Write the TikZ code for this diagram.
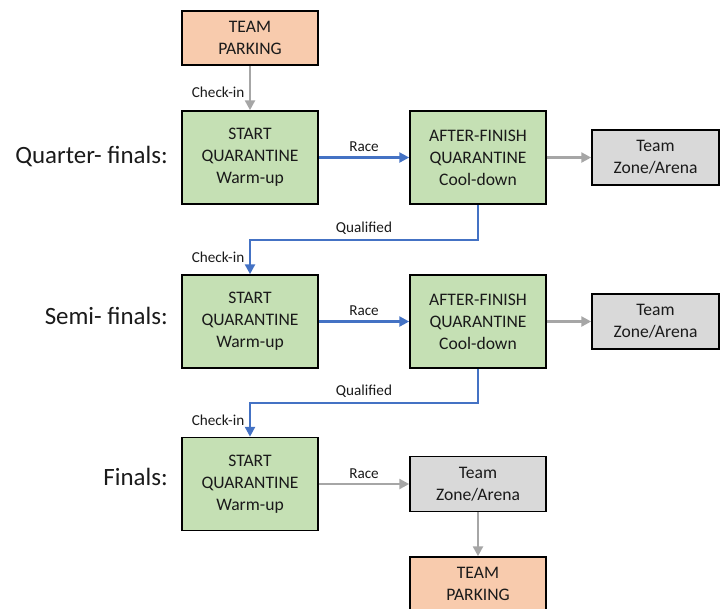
\documentclass[tikz,border=0pt]{standalone}
\usepackage{fontspec}
\setmainfont{Carlito}
\usetikzlibrary{arrows.meta,positioning,calc}

\begin{document}
\begin{tikzpicture}[x=0.025cm, y=-0.025cm,
    box/.style={draw=black, line width=1.1pt, align=center, inner sep=0pt, text=textDark,
        font=\fontsize{12.5}{15.6}\selectfont},
    stage/.style={box, fill=stageGreen, minimum width=3.4cm, minimum height=2.325cm},
    park/.style={box, fill=parkOrange, minimum width=3.4cm, minimum height=1.35cm},
    zone/.style={box, fill=zoneGray, minimum height=1.375cm},
    blueflow/.style={draw=flowBlue, line width=2.1pt, -{Triangle[length=7pt,width=7pt]}},
    grayflow/.style={draw=flowGray, line width=2pt, -{Triangle[length=7pt,width=7pt]}},
    lbl/.style={font=\fontsize{10.8}{12}\selectfont, text=textDark, inner sep=3pt},
    round/.style={anchor=east, inner sep=0pt, text=textDark, font=\fontsize{17.7}{20}\selectfont}]
    % Color Palette
    \definecolor{stageGreen}{HTML}{C5E0B4}
    \definecolor{parkOrange}{HTML}{F8CBAD}
    \definecolor{zoneGray}{HTML}{D9D9D9}
    \definecolor{flowBlue}{HTML}{4472C4}
    \definecolor{flowGray}{HTML}{A6A6A6}
    \definecolor{textDark}{HTML}{1A1A1A}

    \useasboundingbox (0,0) rectangle (720,608);

    % --- Quarter-finals ---
    \node[park] (park1) at (250,38) {TEAM\\PARKING};
    \node[stage] (start1) at (250,157.5) {START\\QUARANTINE\\Warm-up};
    \node[stage] (after1) at (478,157.5) {AFTER-FINISH\\QUARANTINE\\Cool-down};
    \node[zone, minimum width=3.175cm] (zone1) at (655.5,157.5) {Team\\Zone/Arena};
    \node[round] (qf) at (168,156) {Quarter- finals:};

    % --- Semi-finals ---
    \node[stage] (start2) at (250,321.5) {START\\QUARANTINE\\Warm-up};
    \node[stage] (after2) at (478,321.5) {AFTER-FINISH\\QUARANTINE\\Cool-down};
    \node[zone, minimum width=3.175cm] (zone2) at (655.5,321.5) {Team\\Zone/Arena};
    \node[round] (sf) at (168,316) {Semi- finals:};

    % --- Finals ---
    \node[stage] (start3) at (250,484) {START\\QUARANTINE\\Warm-up};
    \node[zone, minimum width=3.4cm] (zone3) at (478,484) {Team\\Zone/Arena};
    \node[park] (park2) at (478,584) {TEAM\\PARKING};
    \node[round] (fi) at (168,477) {Finals:};

    % Arrows
    \draw[grayflow] (park1) -- node[lbl, left, yshift=-3pt] {Check-in} (start1);
    \draw[blueflow] (start1) -- node[lbl, above] {Race} (after1);
    \draw[grayflow] (after1) -- (zone1);
    \coordinate (bend1) at (478,240);
    \draw[blueflow] (after1.south) -- (bend1) -| node[lbl, pos=0.25, above] {Qualified}
        node[lbl, pos=0.75, left] {Check-in} (start2.north);

    \draw[blueflow] (start2) -- node[lbl, above] {Race} (after2);
    \draw[grayflow] (after2) -- (zone2);
    \coordinate (bend2) at (478,403);
    \draw[blueflow] (after2.south) -- (bend2) -| node[lbl, pos=0.25, above] {Qualified}
        node[lbl, pos=0.75, left] {Check-in} (start3.north);

    \draw[grayflow] (start3) -- node[lbl, above] {Race} (zone3);
    \draw[grayflow] (zone3) -- (park2);

\end{tikzpicture}
\end{document}
